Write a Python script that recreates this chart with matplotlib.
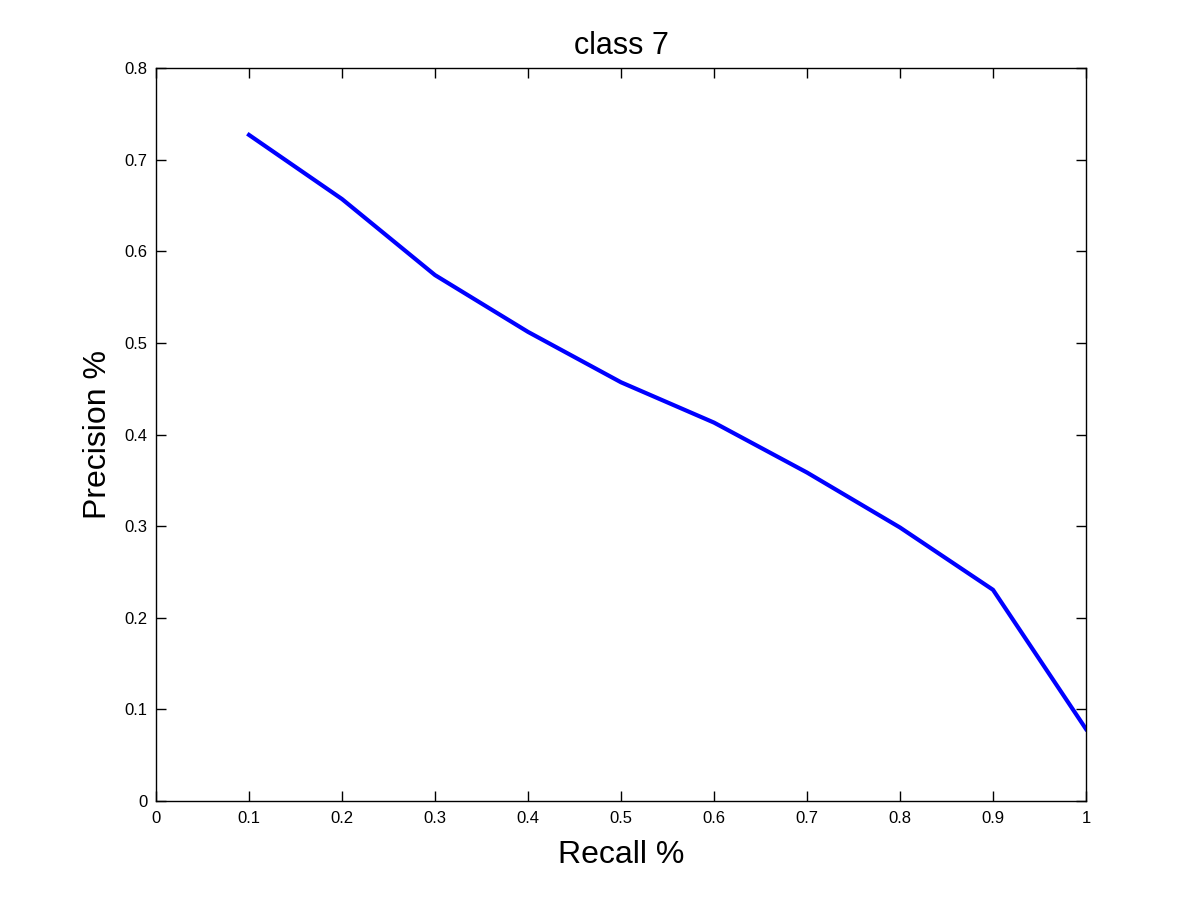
import matplotlib
matplotlib.use("Agg")
import matplotlib.pyplot as plt

recall = [0.1, 0.2, 0.3, 0.4, 0.5, 0.6, 0.7, 0.8, 0.9, 1.0]
precision = [0.727, 0.657, 0.574, 0.512, 0.457, 0.413, 0.3585, 0.2985, 0.2305, 0.0785]
xticks = [0, 0.1, 0.2, 0.3, 0.4, 0.5, 0.6, 0.7, 0.8, 0.9, 1]
xticklabels = ["0", "0.1", "0.2", "0.3", "0.4", "0.5", "0.6", "0.7", "0.8", "0.9", "1"]
yticks = [0, 0.1, 0.2, 0.3, 0.4, 0.5, 0.6, 0.7, 0.8]
yticklabels = ["0", "0.1", "0.2", "0.3", "0.4", "0.5", "0.6", "0.7", "0.8"]

plt.rcParams['font.family'] = ['Liberation Sans', 'DejaVu Sans']

fig = plt.figure(figsize=(12, 9.01), dpi=100)
ax = fig.add_axes([0.13, 0.111, 0.775, 0.8135])
ax.plot(recall, precision, color='#0000ff', lw=3, solid_joinstyle='round')
ax.set_xlim(0, 1)
ax.set_ylim(0, 0.8)
ax.set_xticks(xticks)
ax.set_xticklabels(xticklabels)
ax.set_yticks(yticks)
ax.set_yticklabels(yticklabels)
ax.tick_params(direction='in', length=7, width=1, labelsize=12,
               top=True, right=True, colors='black')
ax.tick_params(axis='x', pad=7)
ax.tick_params(axis='y', pad=6)
for s in ax.spines.values():
    s.set_linewidth(1)
ax.set_title('class 7', fontsize=22, pad=10)
ax.set_xlabel('Recall %', fontsize=23, labelpad=10)
ax.set_ylabel('Precision %', fontsize=23, labelpad=8)
fig.savefig('out.png', dpi=100)
